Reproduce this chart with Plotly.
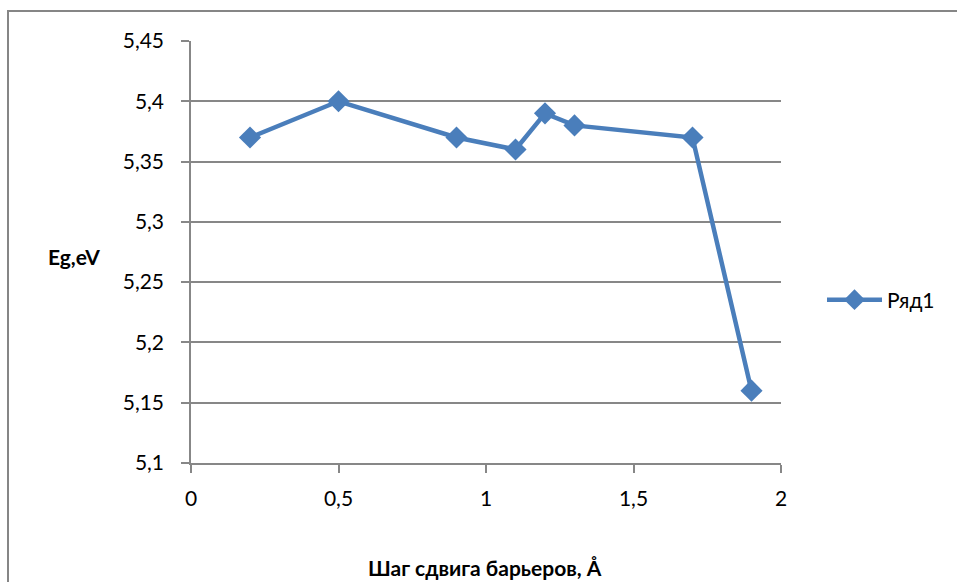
import plotly.graph_objects as go

x_vals = [0.2, 0.5, 0.9, 1.1, 1.2, 1.3, 1.7, 1.9]
y_vals = [5.37, 5.40, 5.37, 5.36, 5.39, 5.38, 5.37, 5.16]
series_name = "Ряд1"
x_ticks = [0, 0.5, 1, 1.5, 2]
x_tick_labels = ["0", "0,5", "1", "1,5", "2"]
y_ticks = [5.1, 5.15, 5.2, 5.25, 5.3, 5.35, 5.4, 5.45]
y_tick_labels = ["5,1", "5,15", "5,2", "5,25", "5,3", "5,35", "5,4", "5,45"]
x_title = "Шаг сдвига барьеров, Å"
y_title = "Eg,eV"

FONT = "Lato"
BLUE = "#4a7ebb"
GRID = "#878787"

W, H = 957, 582
L, R, T, B = 191, 957 - 781, 41, 582 - 463
pw, ph = W - L - R, H - T - B

def px(xp):
    return (xp - L) / pw

def py(yp):
    return (H - B - yp) / ph

fig = go.Figure()
fig.add_trace(go.Scatter(
    x=x_vals, y=y_vals, name=series_name, mode="lines+markers",
    line=dict(color=BLUE, width=4.5),
    marker=dict(symbol="diamond", size=17, color=BLUE),
))

fig.update_layout(
    width=W, height=H,
    margin=dict(l=L, r=R, t=T, b=B, autoexpand=False),
    paper_bgcolor="white", plot_bgcolor="white",
    font=dict(family=FONT, size=21, color="black"),
    showlegend=True,
    legend=dict(x=px(822), y=py(300), xanchor="left", yanchor="middle",
                font=dict(family=FONT, size=21), itemwidth=55,
                bgcolor="rgba(0,0,0,0)"),
    xaxis=dict(range=[0, 2], tickvals=x_ticks, ticktext=x_tick_labels,
               showgrid=False, showline=True, linecolor=GRID, linewidth=1.5,
               ticks="outside", ticklen=8, tickcolor=GRID, tickwidth=1.5,
               ticklabelstandoff=8,
               zeroline=False, fixedrange=True),
    yaxis=dict(range=[5.1, 5.45], tickvals=y_ticks, ticktext=y_tick_labels,
               showgrid=True, gridcolor=GRID, gridwidth=1.5,
               showline=True, linecolor=GRID, linewidth=1.5,
               ticks="outside", ticklen=8, tickcolor=GRID, tickwidth=1.5,
               ticklabelstandoff=13,
               zeroline=False, fixedrange=True),
    annotations=[
        dict(text=f"<b>{y_title}</b>", x=px(74), y=py(256), xref="paper", yref="paper",
             xanchor="center", yanchor="middle",
             showarrow=False, font=dict(family=FONT, size=21)),
        dict(text=f"<b>{x_title}</b>", x=px(485), y=py(567), xref="paper", yref="paper",
             xanchor="center", yanchor="middle",
             showarrow=False, font=dict(family=FONT, size=21)),
    ],
    shapes=[
        dict(type="rect", xref="paper", yref="paper",
             x0=px(8), x1=px(1100), y0=py(700), y1=py(11),
             line=dict(color="#868686", width=2), layer="below"),
    ],
)

fig.write_html(
    "out.html",
    config={"displayModeBar": False},
    post_script="document.body.style.margin='0';document.body.style.overflow='hidden';",
)
